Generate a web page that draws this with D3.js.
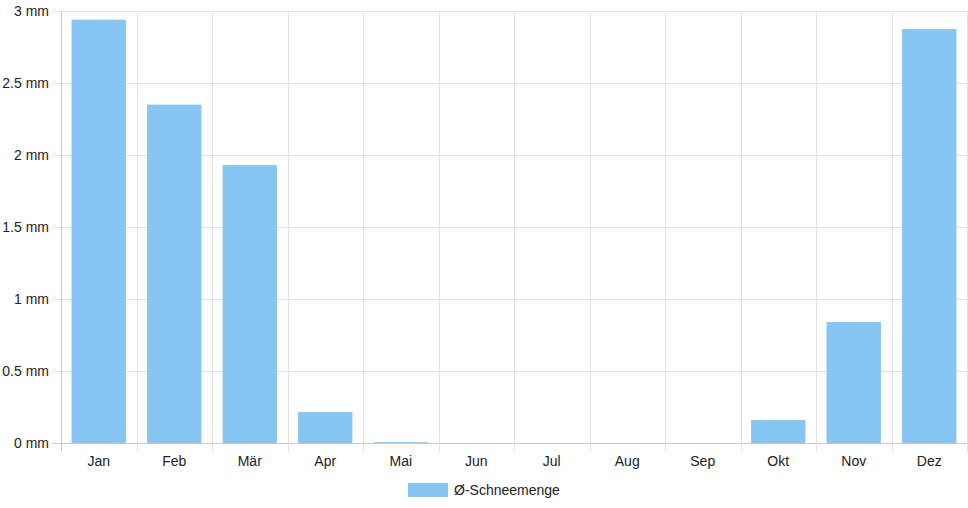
<!DOCTYPE html>
<html lang="de">
<head>
<meta charset="UTF-8">
<title>Schneemenge</title>
<script src="https://cdn.jsdelivr.net/npm/d3@7"></script>
<style>
    body { margin: 0; background: #fff; }
    text { font-family: "Liberation Sans", Arial, sans-serif; font-size: 14px; fill: #222; }
</style>
</head>
<body>
<script>
    var months = ["Jan", "Feb", "Mär", "Apr", "Mai", "Jun", "Jul", "Aug", "Sep", "Okt", "Nov", "Dez"];
    var snow = [2.94, 2.35, 1.93, 0.215, 0.006, 0, 0, 0, 0, 0.16, 0.84, 2.875];
    var yTicks = [0, 0.5, 1, 1.5, 2, 2.5, 3];
    var seriesName = "Ø-Schneemenge";

    var w = 968, h = 508;
    var plotLeft = 61, plotRight = 967, plotTop = 11, plotBottom = 443;

    var svg = d3.select("body").append("svg")
        .attr("width", w)
        .attr("height", h);

    var x = d3.scaleBand()
        .domain(months)
        .range([plotLeft, plotRight]);

    var y = d3.scaleLinear()
        .domain([0, 3])
        .range([plotBottom, plotTop]);

    // horizontal grid + y tick marks
    svg.append("g").selectAll("line")
        .data(yTicks)
        .enter()
        .append("line")
        .attr("x1", plotLeft - 9)
        .attr("x2", plotRight)
        .attr("y1", function (d) { return Math.round(y(d)) + 0.5; })
        .attr("y2", function (d) { return Math.round(y(d)) + 0.5; })
        .attr("stroke", function (d) { return d === 0 ? "#c8c8c8" : "#e4e4e4"; })
        .attr("stroke-width", 1);

    // vertical grid lines at band edges
    var edges = months.map(function (m) { return x(m); }).concat([plotRight]);
    svg.append("g").selectAll("line")
        .data(edges)
        .enter()
        .append("line")
        .attr("x1", function (d) { return Math.round(d) + 0.5; })
        .attr("x2", function (d) { return Math.round(d) + 0.5; })
        .attr("y1", plotTop)
        .attr("y2", plotBottom + 9)
        .attr("stroke", function (d, i) { return i === 0 ? "#c8c8c8" : "#e4e4e4"; })
        .attr("stroke-width", 1);

    // y labels
    svg.append("g").selectAll("text")
        .data(yTicks)
        .enter()
        .append("text")
        .attr("x", plotLeft - 12)
        .attr("y", function (d) { return y(d); })
        .attr("dy", "0.35em")
        .attr("text-anchor", "end")
        .text(function (d) { return d + " mm"; });

    // x labels
    svg.append("g").selectAll("text")
        .data(months)
        .enter()
        .append("text")
        .attr("x", function (d) { return x(d) + x.bandwidth() / 2; })
        .attr("y", plotBottom + 23)
        .attr("text-anchor", "middle")
        .text(function (d) { return d; });

    // bars
    var bw = x.bandwidth() * 0.72;
    svg.append("g").selectAll("rect")
        .data(snow)
        .enter()
        .append("rect")
        .attr("x", function (d, i) { return x(months[i]) + (x.bandwidth() - bw) / 2; })
        .attr("y", function (d) { return y(d); })
        .attr("width", bw)
        .attr("height", function (d) { return plotBottom - y(d); })
        .attr("fill", "#87c6f3");

    // legend
    var lg = svg.append("g").attr("transform", "translate(408,483)");
    lg.append("rect")
        .attr("width", 40)
        .attr("height", 14)
        .attr("fill", "#87c6f3");
    lg.append("text")
        .attr("x", 46)
        .attr("y", 7)
        .attr("dy", "0.35em")
        .text(seriesName);
</script>
</body>
</html>
